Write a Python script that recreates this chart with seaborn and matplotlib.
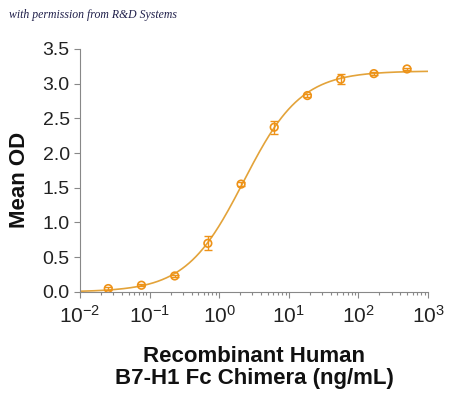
import numpy as np
import pandas as pd
import seaborn as sns
import matplotlib.pyplot as plt

# measured points (3-fold dilution series)
conc = [0.0254, 0.0762, 0.229, 0.686, 2.06, 6.17, 18.5, 55.6, 167.0, 500.0]
mean_od = [0.048, 0.096, 0.23, 0.70, 1.553, 2.373, 2.829, 3.064, 3.145, 3.212]
sem = [0.02, 0.015, 0.02, 0.10, 0.025, 0.095, 0.02, 0.07, 0.02, 0.015]

y_ticks = [0.0, 0.5, 1.0, 1.5, 2.0, 2.5, 3.0, 3.5]
x_ticks = [1e-2, 1e-1, 1e0, 1e1, 1e2, 1e3]

line_col = '#E3A33A'
mark_col = '#EE9217'

df = pd.DataFrame({'conc': conc, 'od': mean_od, 'sem': sem})


def fit_4pl(x, y):
    # grid over EC50 / hill, bottom and top solved by least squares
    lx = np.log10(x)
    best = None
    for c in np.linspace(-0.5, 1.5, 201):
        for h in np.linspace(0.5, 2.5, 201):
            s = 1.0 / (1.0 + 10 ** ((c - lx) * h))
            A = np.column_stack([1 - s, s])
            coef, *_ = np.linalg.lstsq(A, y, rcond=None)
            err = np.sum((A @ coef - y) ** 2)
            if best is None or err < best[0]:
                best = (err, coef[0], coef[1], c, h)
    return best[1:]


bottom, top, c50, hill = fit_4pl(df['conc'].values, df['od'].values)
xs = np.logspace(-2, 3, 400)
curve = pd.DataFrame({'conc': xs,
                      'od': bottom + (top - bottom) / (1 + 10 ** ((c50 - np.log10(xs)) * hill))})

sns.set_style('ticks')
plt.rcParams['font.family'] = ['Liberation Sans', 'DejaVu Sans']
plt.rcParams['mathtext.default'] = 'regular'
plt.rcParams['mathtext.fontset'] = 'custom'
plt.rcParams['mathtext.rm'] = 'Liberation Sans'
plt.rcParams['axes.unicode_minus'] = False

fig = plt.figure(figsize=(4.5, 3.95), dpi=100)
ax = fig.add_axes([0.178, 0.261, 0.773, 0.615])

sns.lineplot(data=curve, x='conc', y='od', ax=ax, color=line_col, lw=1.2)
ax.errorbar(df['conc'], df['od'], yerr=df['sem'], fmt='none', ecolor=mark_col,
            elinewidth=1.0, capsize=3, capthick=1.0)
sns.scatterplot(data=df, x='conc', y='od', ax=ax, marker='o', s=30,
                facecolor='none', edgecolor=mark_col, linewidth=1.2, zorder=5)

ax.set_xscale('log')
ax.set_xlim(1e-2, 1e3)
ax.set_ylim(0, 3.5)
ax.set_xticks(x_ticks)
ax.set_yticks(y_ticks)
ax.set_yticklabels([f'{v:.1f}' for v in y_ticks])
ax.tick_params(axis='both', labelsize=14, color='#888888', labelcolor='#222222',
               length=4, width=0.8)
ax.tick_params(axis='x', which='minor', color='#888888', length=2.5, width=0.8)
ax.tick_params(axis='x', labelsize=15, pad=5)

sns.despine(ax=ax)
for sp in ['left', 'bottom']:
    ax.spines[sp].set_color('#888888')
    ax.spines[sp].set_linewidth(0.8)

ax.set_xlabel('Recombinant Human\nB7-H1 Fc Chimera (ng/mL)', fontsize=16,
              fontweight='bold', linespacing=1.05, labelpad=14, color='#111111')
ax.set_ylabel('Mean OD', fontsize=16, fontweight='bold', color='#111111')
ax.yaxis.set_label_coords(-0.145, 0.46)

fig.text(0.02, 0.955, 'with permission from R&D Systems', fontsize=8.5,
         style='italic', family='Liberation Serif', color='#1f1f4a')

fig.savefig('out.png', dpi=100)
